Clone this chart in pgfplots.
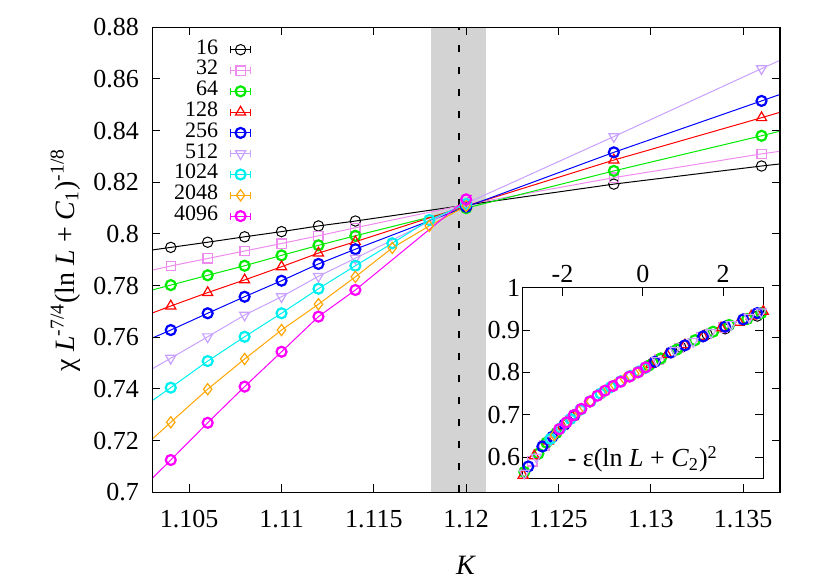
\documentclass[border=0pt]{standalone}
\usepackage{fontspec}
\setmainfont{Liberation Serif}
\usepackage{pgfplots}
\pgfplotsset{compat=1.18}

\definecolor{c16}{RGB}{0,0,0}
\definecolor{c32}{RGB}{238,140,238}
\definecolor{c64}{RGB}{0,235,0}
\definecolor{c128}{RGB}{255,0,0}
\definecolor{c256}{RGB}{0,0,255}
\definecolor{c512}{RGB}{200,160,255}
\definecolor{c1024}{RGB}{0,240,240}
\definecolor{c2048}{RGB}{255,165,0}
\definecolor{c4096}{RGB}{255,0,255}
\definecolor{band}{RGB}{211,211,211}

% marker styles, one per L
\pgfplotsset{
  m16/.style={only marks, color=c16, mark=o, mark size=2.6pt, line width=0.5pt},
  m32/.style={only marks, color=c32, mark=square, mark size=2.3pt, line width=0.6pt},
  m64/.style={only marks, color=c64, mark=o, mark size=2.5pt, line width=1.1pt},
  m128/.style={only marks, color=c128, mark=triangle, mark size=2.9pt, line width=0.6pt},
  m256/.style={only marks, color=c256, mark=o, mark size=2.5pt, line width=1.1pt},
  m512/.style={only marks, color=c512, mark=triangle, mark options={rotate=180}, mark size=2.9pt, line width=0.6pt},
  m1024/.style={only marks, color=c1024, mark=o, mark size=2.5pt, line width=1.1pt},
  m2048/.style={only marks, color=c2048, mark=diamond, mark size=2.8pt, line width=0.6pt},
  m4096/.style={only marks, color=c4096, mark=o, mark size=2.5pt, line width=1.1pt},
  fit/.style={color=#1, line width=0.5pt, mark=none, forget plot},
}

\begin{document}
\begin{tikzpicture}
\useasboundingbox (0,0) rectangle (415pt,290.5pt);

\begin{axis}[
  scale only axis, width=313.85pt, height=232.5pt,
  at={(76.15pt,44.35pt)}, anchor=south west,
  xmin=1.103, xmax=1.137, ymin=0.7, ymax=0.88,
  xtick={1.105,1.11,1.115,1.12,1.125,1.13,1.135},
  xticklabels={1.105,1.11,1.115,1.12,1.125,1.13,1.135},
  ytick={0.70,0.72,0.74,0.76,0.78,0.80,0.82,0.84,0.86,0.88},
  yticklabels={0.7,0.72,0.74,0.76,0.78,0.8,0.82,0.84,0.86,0.88},
  tick align=inside, major tick length=4pt,
  tick style={black, line width=0.5pt},
  axis line style={line width=0.75pt},
  axis on top,
  tick label style={font=\fontsize{13}{15}\selectfont},
  xticklabel style={yshift=-5.4pt},
  yticklabel style={xshift=-3.2pt},
  xlabel={\textit{K}},
  xlabel style={at={(axis description cs:0.5,-0.157)}, anchor=center, font=\fontsize{14}{16}\selectfont},
  ylabel={χ \textit{L}\textsuperscript{-7/4}(ln \textit{L} + \textit{C}\textsubscript{1})\textsuperscript{-1/8}},
  ylabel style={at={(axis description cs:-0.1386,0.5)}, anchor=center, font=\fontsize{14}{16}\selectfont},
  legend plot pos=right,
  legend cell align=right,
  legend image code/.code={
    \draw[#1, mark=none, line width=0.5pt] (-5pt,0pt) -- (5pt,0pt)
      (-5pt,-1.8pt) -- (-5pt,1.8pt) (5pt,-1.8pt) -- (5pt,1.8pt);
    \draw[#1] plot coordinates {(0pt,0pt)};
  },
  legend style={draw=none, fill=none, inner sep=0pt,
    at={(axis description cs:0.158,0.975)}, anchor=north east,
    font=\fontsize{11}{11}\selectfont,
    nodes={inner sep=0pt, text height=7.4pt, text depth=3pt},
    /tikz/every odd column/.append style={column sep=6pt}},
]

% critical band and estimate of K_c
\addplot[fill=band, draw=none, forget plot] coordinates {(1.1181,0.88) (1.1211,0.88)} \closedcycle;
\addplot[black, line width=1.1pt, dash pattern=on 3.5pt off 7.5pt, forget plot] coordinates {(1.1196,0.7) (1.1196,0.88)};

% L = 16
\addplot[fit=c16] coordinates {(1.103,0.7938) (1.104,0.7948) (1.106,0.7968) (1.108,0.7989) (1.110,0.8009) (1.112,0.8031) (1.114,0.8050) (1.120,0.8112) (1.128,0.8193) (1.136,0.8263) (1.137,0.8271)};
\addplot[m16] coordinates {(1.104,0.7948) (1.106,0.7968) (1.108,0.7989) (1.110,0.8009) (1.112,0.8031) (1.114,0.8050) (1.120,0.8112) (1.128,0.8193) (1.136,0.8263)};
\addlegendentry{16}
% L = 32
\addplot[fit=c32] coordinates {(1.103,0.7860) (1.104,0.7876) (1.106,0.7905) (1.108,0.7934) (1.110,0.7963) (1.112,0.7993) (1.114,0.8024) (1.120,0.8114) (1.128,0.8218) (1.136,0.8310) (1.137,0.8320)};
\addplot[m32] coordinates {(1.104,0.7876) (1.106,0.7905) (1.108,0.7934) (1.110,0.7963) (1.112,0.7993) (1.114,0.8024) (1.120,0.8114) (1.128,0.8218) (1.136,0.8310)};
\addlegendentry{32}
% L = 64
\addplot[fit=c64] coordinates {(1.103,0.7783) (1.104,0.7802) (1.106,0.7840) (1.108,0.7877) (1.110,0.7917) (1.112,0.7956) (1.114,0.7993) (1.120,0.8100) (1.128,0.8244) (1.136,0.8380) (1.137,0.8398)};
\addplot[m64] coordinates {(1.104,0.7802) (1.106,0.7840) (1.108,0.7877) (1.110,0.7917) (1.112,0.7956) (1.114,0.7993) (1.120,0.8100) (1.128,0.8244) (1.136,0.8380)};
\addlegendentry{64}
% L = 128
\addplot[fit=c128] coordinates {(1.103,0.7694) (1.104,0.7721) (1.106,0.7773) (1.108,0.7822) (1.110,0.7873) (1.112,0.7926) (1.114,0.7970) (1.120,0.8108) (1.128,0.8286) (1.136,0.8450) (1.137,0.8471)};
\addplot[m128] coordinates {(1.104,0.7721) (1.106,0.7773) (1.108,0.7822) (1.110,0.7873) (1.112,0.7926) (1.114,0.7970) (1.120,0.8108) (1.128,0.8286) (1.136,0.8450)};
\addlegendentry{128}
% L = 256
\addplot[fit=c256] coordinates {(1.103,0.7597) (1.104,0.7628) (1.106,0.7693) (1.108,0.7757) (1.110,0.7819) (1.112,0.7884) (1.114,0.7941) (1.120,0.8105) (1.128,0.8316) (1.136,0.8515) (1.137,0.8540)};
\addplot[m256] coordinates {(1.104,0.7628) (1.106,0.7693) (1.108,0.7757) (1.110,0.7819) (1.112,0.7884) (1.114,0.7941) (1.120,0.8105) (1.128,0.8316) (1.136,0.8515)};
\addlegendentry{256}
% L = 512
\addplot[fit=c512] coordinates {(1.103,0.7478) (1.104,0.7519) (1.106,0.7602) (1.108,0.7686) (1.110,0.7757) (1.112,0.7836) (1.114,0.7906) (1.120,0.8118) (1.128,0.8377) (1.136,0.8640) (1.137,0.8672)};
\addplot[m512] coordinates {(1.104,0.7519) (1.106,0.7602) (1.108,0.7686) (1.110,0.7757) (1.112,0.7836) (1.114,0.7906) (1.120,0.8118) (1.128,0.8377) (1.136,0.8640)};
\addlegendentry{512}
% L = 1024
\addplot[fit=c1024] coordinates {(1.103,0.7355) (1.104,0.7405) (1.106,0.7508) (1.108,0.7602) (1.110,0.7693) (1.112,0.7788) (1.114,0.7877) (1.116,0.7964) (1.118,0.8054) (1.120,0.8116) (1.1203,0.8124)};
\addplot[m1024] coordinates {(1.104,0.7405) (1.106,0.7508) (1.108,0.7602) (1.110,0.7693) (1.112,0.7788) (1.114,0.7877) (1.116,0.7964) (1.118,0.8054) (1.120,0.8116)};
\addlegendentry{1024}
% L = 2048
\addplot[fit=c2048] coordinates {(1.103,0.7206) (1.104,0.7271) (1.106,0.7399) (1.108,0.7516) (1.110,0.7628) (1.112,0.7728) (1.114,0.7834) (1.116,0.7946) (1.118,0.8031) (1.120,0.8108) (1.1203,0.8119)};
\addplot[m2048] coordinates {(1.104,0.7271) (1.106,0.7399) (1.108,0.7516) (1.110,0.7628) (1.112,0.7728) (1.114,0.7834) (1.116,0.7946) (1.118,0.8031) (1.120,0.8108)};
\addlegendentry{2048}
% L = 4096
\addplot[fit=c4096] coordinates {(1.103,0.7054) (1.104,0.7125) (1.106,0.7269) (1.108,0.7409) (1.110,0.7544) (1.112,0.7680) (1.114,0.7783) (1.120,0.8134) (1.1203,0.8150)};
\addplot[m4096] coordinates {(1.104,0.7125) (1.106,0.7269) (1.108,0.7409) (1.110,0.7544) (1.112,0.7680) (1.114,0.7783) (1.120,0.8134)};
\addlegendentry{4096}
\end{axis}

% inset: scaling collapse
\begin{axis}[
  scale only axis, width=120.5pt, height=95.3pt,
  at={(261.15pt,51.35pt)}, anchor=south west,
  xmin=-3, xmax=3, ymin=0.55, ymax=1,
  axis background/.style={fill=white},
  xtick={-2,0,2}, xticklabels={-2,0,2},
  xtick pos=top, xticklabel pos=top,
  ytick={0.6,0.7,0.8,0.9,1}, yticklabels={0.6,0.7,0.8,0.9,1},
  tick align=inside, major tick length=4pt,
  tick style={black, line width=0.5pt},
  axis line style={line width=0.75pt},
  tick label style={font=\fontsize{13}{15}\selectfont},
  xticklabel style={yshift=-1pt},
  yticklabel style={xshift=2.5pt},
]
\addplot[m16] coordinates {(0.25,0.822) (0.95,0.859) (1.6,0.890) (2.05,0.903) (2.85,0.933)};
\addplot[m32] coordinates {(-2.75,0.590) (-2.45,0.627) (0.4,0.830) (0.9,0.857) (1.45,0.884) (2.0,0.906) (2.6,0.928)};
\addplot[m64] coordinates {(-2.95,0.565) (-2.6,0.608) (-2.4,0.634) (-2.15,0.657) (0.15,0.816) (0.45,0.833) (0.85,0.854) (1.3,0.876) (1.75,0.896) (2.15,0.912) (2.6,0.926) (2.95,0.940)};
\addplot[m128] coordinates {(-2.98,0.557) (-2.7,0.603) (-2.35,0.638) (-2.0,0.673) (-1.75,0.695) (0.2,0.819) (0.6,0.842) (1.05,0.865) (1.5,0.885) (1.95,0.905) (2.4,0.918) (2.7,0.933) (3.0,0.944)};
\addplot[m256] coordinates {(-2.85,0.578) (-2.5,0.625) (-2.25,0.648) (-1.95,0.677) (-1.7,0.699) (0.3,0.825) (0.7,0.847) (1.05,0.864) (1.5,0.885) (2.05,0.908) (2.5,0.925) (2.85,0.940)};
\addplot[m512] coordinates {(-2.95,0.562) (-2.65,0.600) (-2.3,0.641) (-2.05,0.668) (-1.8,0.690) (-1.55,0.712) (0.35,0.828) (0.8,0.852) (1.25,0.873) (1.7,0.894) (2.2,0.913) (2.65,0.930) (2.95,0.943)};
\addplot[m1024] coordinates {(-2.3,0.643) (-2.05,0.668) (-1.8,0.690) (-1.55,0.712) (-1.3,0.732) (-1.05,0.750) (-0.8,0.765) (-0.55,0.779) (-0.3,0.792) (-0.1,0.802) (0.05,0.810)};
\addplot[m2048] coordinates {(-2.2,0.652) (-1.9,0.682) (-1.6,0.708) (-1.3,0.732) (-1.0,0.753) (-0.7,0.770) (-0.45,0.784) (-0.2,0.797) (0.0,0.807)};
\addplot[m4096] coordinates {(-2.08,0.666) (-1.90,0.682) (-1.72,0.699) (-1.53,0.714) (-1.32,0.731) (-1.13,0.745) (-0.94,0.757) (-0.74,0.768) (-0.55,0.778) (-0.33,0.790) (-0.12,0.800) (0.07,0.812)};
\node[font=\fontsize{13}{15}\selectfont] at (rel axis cs:0.5,0.1) {- ε(ln \textit{L} + \textit{C}\textsubscript{2})\textsuperscript{2}};
\end{axis}
\end{tikzpicture}
\end{document}
